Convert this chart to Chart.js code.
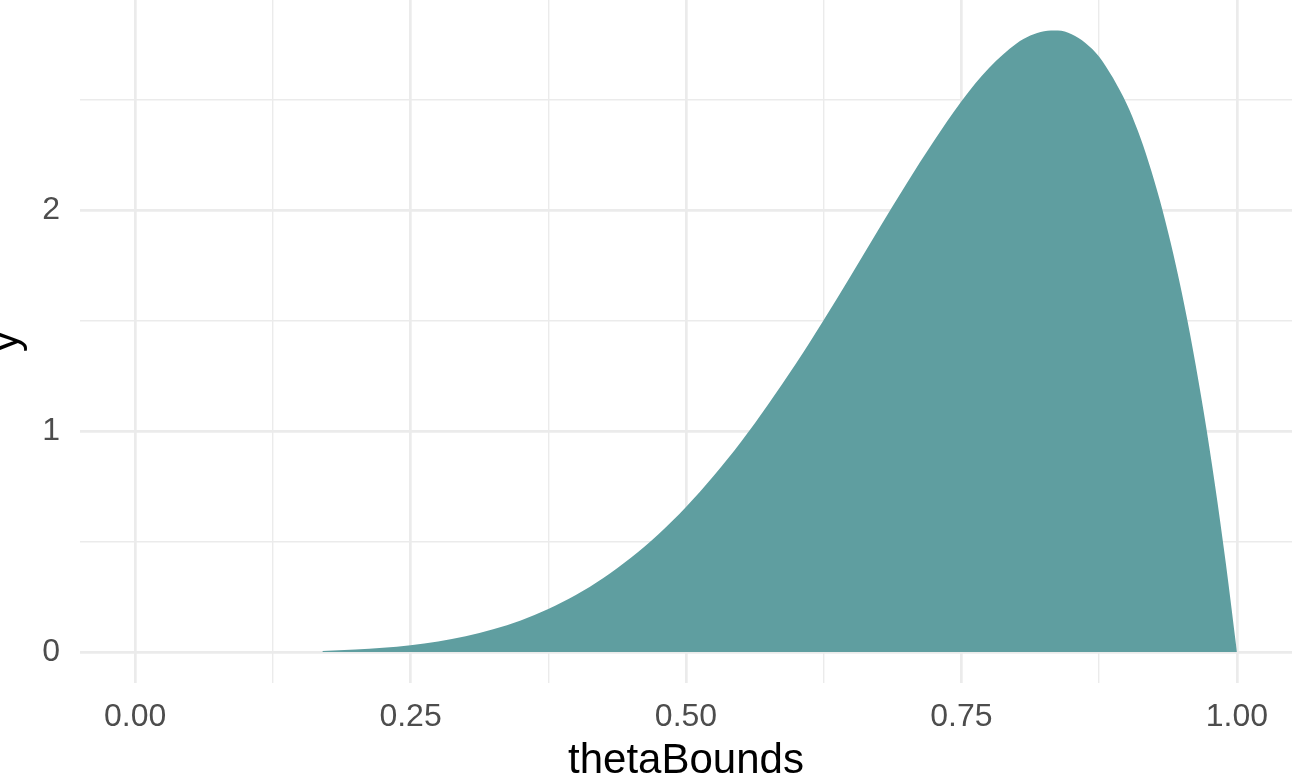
<!DOCTYPE html>
<html lang="en">
<head>
    <meta charset="UTF-8">
    <meta name="viewport" content="width=device-width, initial-scale=1.0">
    <script src="https://cdn.jsdelivr.net/npm/chart.js"></script>
    <title>thetaBounds</title>
    <style>
        html, body { margin: 0; padding: 0; background: #ffffff; }
        #wrap { width: 1292px; height: 779px; }
    </style>
    <script>
        // density values
        let thetaBounds = [0.17, 0.2, 0.225, 0.25, 0.275, 0.3, 0.325, 0.35, 0.375, 0.4,
            0.425, 0.45, 0.475, 0.5, 0.525, 0.55, 0.575, 0.6, 0.625, 0.65,
            0.675, 0.7, 0.725, 0.75, 0.775, 0.8, 0.8125, 0.825, 0.8375, 0.85, 0.8625, 0.875, 0.9,
            0.91, 0.92, 0.93, 0.94, 0.95, 0.96, 0.97, 0.98, 0.99, 1.0];
        let yVals = [0.005, 0.011, 0.019, 0.031, 0.048, 0.071, 0.103, 0.143, 0.195, 0.258,
            0.335, 0.426, 0.533, 0.656, 0.796, 0.951, 1.123, 1.306, 1.502, 1.706,
            1.914, 2.118, 2.312, 2.492, 2.642, 2.753, 2.789, 2.809, 2.812, 2.795, 2.756, 2.693, 2.480,
            2.359, 2.214, 2.045, 1.849, 1.625, 1.370, 1.082, 0.759, 0.399, 0];
        let xTicks = [0, 0.125, 0.25, 0.375, 0.5, 0.625, 0.75, 0.875, 1];
        let xLabels = ['0.00', '', '0.25', '', '0.50', '', '0.75', '', '1.00'];
        let yTicks = [0, 0.5, 1, 1.5, 2, 2.5];
        let yLabels = ['0', '', '1', '', '2', ''];

        let gridCol = '#EBEBEB';

        window.addEventListener('load', function () {
            let ctx = document.getElementById('myChart');
            let pts = thetaBounds.map(function (v, i) { return {x: v, y: yVals[i]}; });

            new Chart(ctx, {
                type: 'line',
                data: {
                    datasets: [{
                        label: 'y',
                        data: pts,
                        fill: 'origin',
                        backgroundColor: '#5F9EA0',
                        borderWidth: 0,
                        borderColor: '#5F9EA0',
                        pointRadius: 0,
                        cubicInterpolationMode: 'monotone'
                    }]
                },
                options: {
                    responsive: false,
                    animation: false,
                    layout: { padding: 0 },
                    plugins: { legend: { display: false }, tooltip: { enabled: false } },
                    scales: {
                        x: {
                            type: 'linear',
                            min: -0.05,
                            max: 1.05,
                            border: { display: false },
                            afterBuildTicks: function (s) { s.ticks = xTicks.map(function (v) { return {value: v}; }); },
                            afterFit: function (s) {
                                s.height = 96;
                                s.paddingLeft = 0; s.paddingRight = 0;
                            },
                            grid: {
                                color: gridCol,
                                drawTicks: false,
                                lineWidth: function (c) { return xLabels[c.index] ? 2.7 : 1.4; }
                            },
                            ticks: {
                                autoSkip: false,
                                maxRotation: 0,
                                padding: 15,
                                color: '#4D4D4D',
                                font: { family: 'Liberation Sans, Arial', size: 32 },
                                callback: function (v, i) { return xLabels[i]; }
                            },
                            title: {
                                display: true,
                                text: 'thetaBounds',
                                color: '#000000',
                                padding: 0,
                                font: { family: 'Liberation Sans, Arial', size: 42, lineHeight: '36px' }
                            }
                        },
                        y: {
                            min: -0.1403,
                            max: 2.950,
                            border: { display: false },
                            afterBuildTicks: function (s) { s.ticks = yTicks.map(function (v) { return {value: v}; }); },
                            afterFit: function (s) {
                                s.width = 80;
                                s.paddingTop = 0; s.paddingBottom = 0;
                            },
                            grid: {
                                color: gridCol,
                                drawTicks: false,
                                lineWidth: function (c) { return yLabels[c.index] ? 2.7 : 1.4; }
                            },
                            ticks: {
                                autoSkip: false,
                                padding: 20,
                                color: '#4D4D4D',
                                font: { family: 'Liberation Sans, Arial', size: 32 },
                                callback: function (v, i) { return yLabels[i]; }
                            },
                            title: {
                                display: true,
                                text: 'y',
                                color: '#000000',
                                padding: 0,
                                font: { family: 'Liberation Sans, Arial', size: 42, lineHeight: '13px' }
                            }
                        }
                    }
                }
            });
        });
    </script>
</head>
<body>
    <div id="wrap">
        <canvas id="myChart" width="1292" height="779"></canvas>
    </div>
</body>
</html>
